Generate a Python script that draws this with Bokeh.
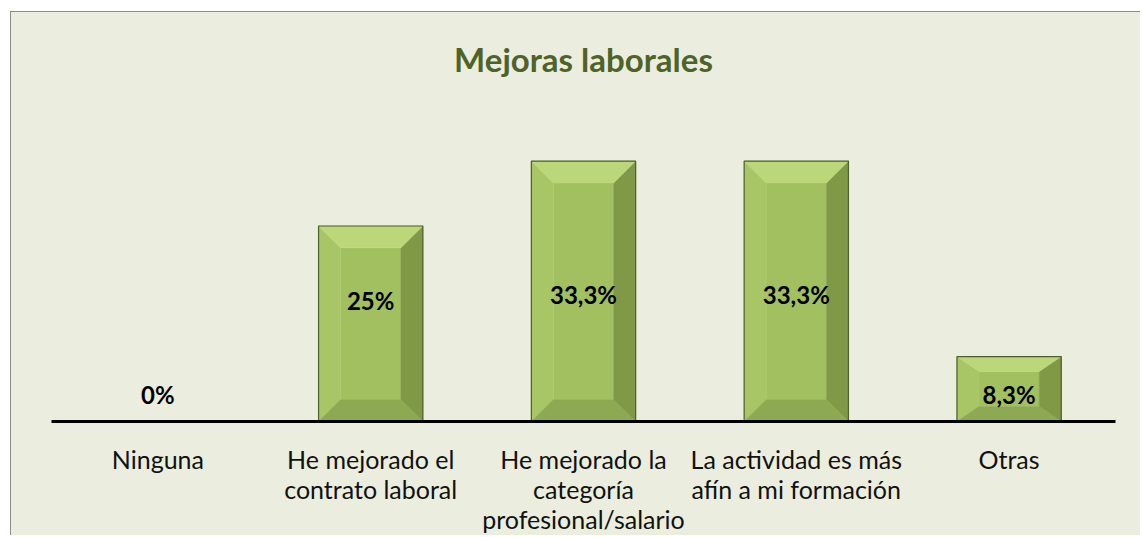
from bokeh.plotting import figure
from bokeh.models import Range1d, FixedTicker, ColumnDataSource
from bokeh.embed import file_html
from bokeh.resources import INLINE
from bokeh.core.properties import value

# ---- data ----
categories = [
    "Ninguna",
    "He mejorado el\ncontrato laboral",
    "He mejorado la\ncategoría\nprofesional/salario",
    "La actividad es más\nafín a mi formación",
    "Otras",
]
percentages = [0.0, 25.0, 33.3, 33.3, 8.3]
value_labels = ["0%", "25%", "33,3%", "33,3%", "8,3%"]
title_text = "Mejoras laborales"

BG = "#EBEEDE"
FONT = "Lato"

p = figure(width=1130, height=524, output_backend="svg", toolbar_location=None,
           x_range=Range1d(-0.5, 4.5), y_range=Range1d(0, 40.66),
           min_border_left=40, min_border_right=26, min_border_top=88,
           min_border_bottom=114)
p.margin = (11, 0, 0, 10)
p.styles = {"border-top": "1px solid #8C8C8C", "border-left": "1px solid #8C8C8C",
            "background-color": BG}
p.background_fill_color = None
p.border_fill_color = None
p.outline_line_color = None
p.grid.visible = False
p.yaxis.visible = False

p.title.text = title_text
p.title.align = "center"
p.title.text_font = FONT
p.title.text_font_size = "33px"
p.title.text_font_style = "bold"
p.title.text_color = "#4F6228"
p.title.standoff = 49

xs = list(range(len(categories)))
ax = p.xaxis[0]
ax.ticker = FixedTicker(ticks=xs)
ax.major_label_overrides = {i: c for i, c in zip(xs, categories)}
ax.major_label_text_font = FONT
ax.major_label_text_font_size = "25px"
ax.major_label_text_color = "#111111"
ax.major_label_text_line_height = 1.0
ax.major_label_standoff = 16
ax.major_tick_line_color = None
ax.minor_tick_line_color = None
ax.axis_line_color = "black"
ax.axis_line_width = 3

# ---- bevelled bars derived from data ----
W = 0.49
px_x = 212.8  # pixels per x unit (approx)
px_y = 7.87   # pixels per % (approx)
bevel_px = 22
top_p, left_p, right_p, bot_p = [], [], [], []
face = dict(left=[], right=[], bottom=[], top=[])
for x, v in zip(xs, percentages):
    if v <= 0:
        continue
    x0, x1, y0, y1 = x - W / 2, x + W / 2, 0.0, v
    bx = bevel_px / px_x
    by = min(bevel_px / px_y, v * 0.23)
    top_p.append(([x0, x1, x1 - bx, x0 + bx], [y1, y1, y1 - by, y1 - by]))
    left_p.append(([x0, x0, x0 + bx, x0 + bx], [y0, y1, y1 - by, y0 + by]))
    right_p.append(([x1, x1, x1 - bx, x1 - bx], [y0, y1, y1 - by, y0 + by]))
    bot_p.append(([x0, x1, x1 - bx, x0 + bx], [y0, y0, y0 + by, y0 + by]))
    face["left"].append(x0 + bx)
    face["right"].append(x1 - bx)
    face["bottom"].append(y0 + by)
    face["top"].append(y1 - by)

p.quad(source=ColumnDataSource(face), left="left", right="right", bottom="bottom",
       top="top", fill_color="#A2C05F", line_color=None)
for polys, col in [(left_p, "#A9C667"), (right_p, "#7F9946"), (bot_p, "#8DA951"), (top_p, "#BBD779")]:
    p.patches([a for a, b in polys], [b for a, b in polys], fill_color=col,
              line_color=col, line_width=0.5)
p.vbar(x=[x for x, v in zip(xs, percentages) if v > 0], width=W,
       top=[v for v in percentages if v > 0], bottom=0,
       fill_color=None, line_color="#4E5E2C", line_width=1.2)

# value labels
label_y = [max(3.5, min(v - 9.5, 16.2)) for v in percentages]
p.text(x=xs, y=label_y, text=value_labels, text_font=value(FONT),
       text_font_size="24px", text_font_style="bold", text_color="black",
       text_align="center", text_baseline="middle")

open("out.html", "w").write(file_html(p, INLINE))
